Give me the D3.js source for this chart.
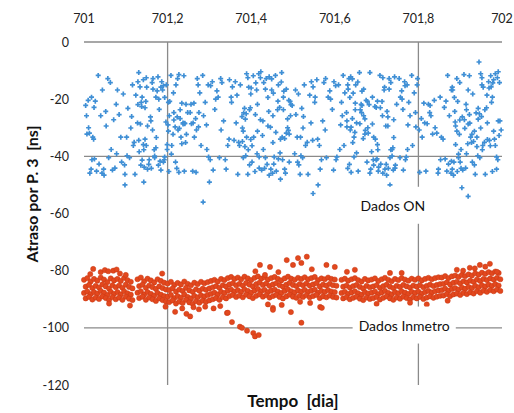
<!DOCTYPE html>
<html>
<head>
<meta charset="utf-8">
<script src="https://cdn.jsdelivr.net/npm/d3@7"></script>
<style>
  body { margin: 0; background: #fff; }
  text { font-family: Lato, "Liberation Sans", sans-serif; }
</style>
</head>
<body>
<div id="chart"></div>
<script>
// time in thousandths of a day after day 701
const T0 = 701;
const xTicks = [701, 701.2, 701.4, 701.6, 701.8, 702];
const yTicks = [0, -20, -40, -60, -80, -100, -120];
const xGrid = [701.2, 701.8];
const yGrid = [0, -40, -100];

// Dados ON  [t, atraso ns]
const dadosON1 = [
  [4,-22.2],[6,-25.8],[7,-32.2],[10,-20.4],[11,-30],[13,-31.9],[14,-45.9],[17,-44.5],[18,-19.3],[19,-41.2],
  [21,-33.3],[23,-34],[24,-22.9],[25,-40.9],[27,-20.7],[30,-45.2],[34,-11.7],[36,-42.7],[40,-25.8],[43,-45.9],
  [44,-16.8],[47,-44.5],[48,-46.6],[52,-24.3],[53,-29.4],[57,-12.8],[59,-40.5],[63,-14.2],[65,-37.6],[68,-44.8],
  [71,-27.2],[74,-44.1],[77,-21.8],[78,-39.1],[80,-16.8],[84,-25.4],[88,-33.3],[90,-42],[94,-18.2],[97,-43],
  [98,-46.3],[102,-33.3],[103,-39.8],[105,-23.2],[109,-40.5],[112,-30.1],[114,-26.1],[116,-15],[118,-36.2],[120,-35.1],
  [122,-46.3],[124,-18.6],[128,-28.3],[129,-13.9],[131,-34.4],[134,-15.7],[137,-21.1],[139,-19.3],[142,-13.2],[146,-34],
  [149,-36.2],[152,-44.5],[156,-41.2],[160,-27.6],[163,-14.2],[164,-30.8],[165,-12.8],[169,-40.5],[172,-19.3],[175,-17.1],
  [179,-20],[180,-23.6],[184,-44.8],[186,-13.9],[190,-15.3],[192,-41.2],[193,-40.2],[197,-15],[199,-37.6],[201,-29],
  [202,-21.1],[204,-25.8],[208,-11.7],[210,-36.2],[214,-17.8],[215,-24.7],[218,-29.7],[220,-15],[224,-12.8],[225,-30.8],
  [227,-45.6],[230,-26.8],[232,-33.3],[234,-21.4],[237,-28.3],[240,-45.2],[241,-28.6],[244,-21.8],[248,-24.7]
];
const dadosON2 = [
  [254,-24.7],[256,-21.8],[257,-28.6],[260,-45.2],[261,-28.3],[263,-21.4],[264,-33.3],[267,-26.8],[268,-45.6],[269,-30.8],
  [271,-12.8],[273,-15],[274,-29.7],[275,-24.7],[277,-17.8],[280,-36.2],[284,-11.7],[286,-25.8],[290,-21.1],[293,-29],
  [294,-37.6],[297,-15],[298,-40.2],[302,-41.2],[303,-15.3],[307,-13.9],[309,-44.8],[313,-23.6],[315,-20],[318,-17.1],
  [321,-19.3],[324,-40.5],[327,-12.8],[328,-30.8],[330,-14.2],[334,-27.6],[338,-41.2],[340,-44.5],[344,-36.2],[347,-34],
  [348,-13.2],[352,-19.3],[353,-21.1],[355,-15.7],[359,-34.4],[362,-13.9],[364,-28.3],[366,-18.6],[368,-46.3],[370,-35.1],
  [372,-36.2],[374,-15],[378,-26.1],[379,-30.1],[381,-40.5],[384,-23.2],[387,-39.8],[389,-33.3],[392,-46.3],[396,-43],
  [399,-18.2],[402,-42],[406,-33.3],[410,-25.4],[413,-16.8],[414,-39.1],[415,-21.8],[419,-44.1],[422,-27.2],[425,-44.8],
  [429,-37.6],[430,-14.2],[434,-40.5],[436,-12.8],[440,-29.4],[442,-24.3],[443,-46.6],[447,-44.5],[449,-16.8],[451,-45.9],
  [452,-25.8],[454,-42.7],[458,-11.7],[460,-45.2],[464,-20.7],[465,-40.9],[468,-22.9],[470,-34],[474,-33.3],[475,-41.2],
  [477,-19.3],[480,-44.5],[482,-45.9],[484,-31.9],[487,-30],[490,-20.4],[491,-32.2],[494,-25.8],[498,-22.2]
];
const dadosON3 = [
  [504,-39.1],[506,-16.8],[507,-25.4],[510,-33.3],[511,-42],[513,-18.2],[514,-43],[517,-46.3],[518,-33.3],[519,-39.8],
  [521,-23.2],[523,-40.5],[524,-30.1],[525,-26.1],[527,-15],[530,-36.2],[534,-35.1],[536,-46.3],[540,-18.6],[543,-28.3],
  [544,-13.9],[547,-34.4],[548,-15.7],[552,-21.1],[553,-19.3],[557,-13.2],[559,-34],[563,-36.2],[565,-44.5],[568,-41.2],
  [571,-27.6],[574,-14.2],[577,-30.8],[578,-12.8],[580,-40.5],[584,-19.3],[588,-17.1],[590,-20],[594,-23.6],[597,-44.8],
  [598,-13.9],[602,-15.3],[603,-41.2],[605,-40.2],[609,-15],[612,-37.6],[614,-29],[616,-21.1],[618,-25.8],[620,-11.7],
  [622,-36.2],[624,-17.8],[628,-24.7],[629,-29.7],[631,-15],[634,-12.8],[637,-30.8],[639,-45.6],[642,-26.8],[646,-33.3],
  [649,-21.4],[652,-28.3],[656,-45.2],[660,-28.6],[663,-21.8],[664,-24.7],[665,-22.2],[669,-25.8],[672,-32.2],[675,-20.4],
  [679,-30],[680,-31.9],[684,-45.9],[686,-44.5],[690,-19.3],[692,-41.2],[693,-33.3],[697,-34],[699,-22.9],[701,-40.9],
  [702,-20.7],[704,-45.2],[708,-11.7],[710,-42.7],[714,-25.8],[715,-45.9],[718,-16.8],[720,-44.5],[724,-46.6],[725,-24.3],
  [727,-29.4],[730,-12.8],[732,-40.5],[734,-14.2],[737,-37.6],[740,-44.8],[741,-27.2],[744,-44.1],[748,-21.8]
];
const dadosON4 = [
  [754,-12.8],[756,-40.5],[757,-19.3],[760,-17.1],[761,-20],[763,-23.6],[764,-44.8],[767,-13.9],[768,-15.3],[769,-41.2],
  [771,-40.2],[773,-15],[774,-37.6],[775,-29],[777,-21.1],[780,-25.8],[784,-11.7],[786,-36.2],[790,-17.8],[793,-24.7],
  [794,-29.7],[797,-15],[798,-12.8],[802,-30.8],[803,-45.6],[807,-26.8],[809,-33.3],[813,-21.4],[815,-28.3],[818,-45.2],
  [821,-28.6],[824,-21.8],[827,-24.7],[828,-22.2],[830,-25.8],[834,-32.2],[838,-20.4],[840,-30],[844,-31.9],[847,-45.9],
  [848,-44.5],[852,-19.3],[853,-41.2],[855,-33.3],[859,-34],[862,-22.9],[864,-40.9],[866,-20.7],[868,-45.2],[870,-11.7],
  [872,-42.7],[874,-25.8],[878,-45.9],[879,-16.8],[881,-44.5],[884,-46.6],[887,-24.3],[889,-29.4],[892,-12.8],[896,-40.5],
  [899,-14.2],[902,-37.6],[906,-44.8],[910,-27.2],[913,-44.1],[914,-21.8],[915,-39.1],[919,-16.8],[922,-25.4],[925,-33.3],
  [929,-42],[930,-18.2],[934,-43],[936,-46.3],[940,-33.3],[942,-39.8],[943,-23.2],[947,-40.5],[949,-30.1],[951,-26.1],
  [952,-15],[954,-36.2],[958,-35.1],[960,-46.3],[964,-18.6],[965,-28.3],[968,-13.9],[970,-34.4],[974,-15.7],[975,-21.1],
  [977,-19.3],[980,-13.2],[982,-34],[984,-36.2],[987,-44.5],[990,-41.2],[991,-27.6],[994,-14.2],[998,-30.8]
];
const dadosON5 = [
  [129,-21.9],[131,-10.7],[132,-38.4],[135,-28.7],[136,-43.1],[138,-22.6],[139,-41.3],[142,-35.9],[143,-37.7],[144,-43.8],
  [146,-23],[148,-20.8],[149,-12.5],[150,-15.8],[152,-29.4],[155,-42.8],[159,-26.2],[161,-44.2],[165,-16.5],[168,-37.7],
  [169,-39.9],[172,-37],[173,-33.4],[177,-12.2],[178,-43.1],[182,-41.7],[184,-15.8],[188,-16.8],[190,-42],[193,-19.4],
  [196,-28],[199,-35.9],[202,-31.2],[203,-45.3],[205,-20.8],[209,-39.2],[213,-32.3],[215,-27.3],[219,-42],[222,-44.2],
  [223,-26.2],[227,-11.4],[228,-30.2],[230,-23.7],[234,-35.6],[237,-28.7],[239,-11.8],[241,-28.4],[243,-35.2],[245,-32.3],
  [379,-34.8],[381,-31.2],[382,-24.8],[385,-36.6],[386,-27],[388,-25.1],[389,-11.1],[392,-12.5],[393,-37.7],[394,-15.8],
  [396,-23.7],[398,-23],[399,-34.1],[400,-16.1],[402,-36.3],[405,-11.8],[409,-45.3],[411,-14.3],[415,-31.2],[418,-11.1],
  [419,-40.2],[422,-12.5],[423,-10.4],[427,-32.7],[428,-27.6],[432,-44.2],[434,-16.5],[438,-42.8],[440,-19.4],[443,-12.2],
  [446,-29.8],[449,-12.9],[452,-35.2],[453,-17.9],[455,-40.2],[459,-31.6],[463,-23.7],[465,-15],[469,-38.8],[472,-14],
  [473,-10.7],[477,-23.7],[478,-17.2],[480,-33.8],[484,-16.5],[487,-26.9],[489,-30.9],[491,-42],[493,-20.8],[495,-21.9]
];
const dadosON6 = [
  [629,-27.6],[631,-44.2],[632,-16.5],[635,-42.8],[636,-19.4],[638,-12.2],[639,-29.8],[642,-12.9],[643,-35.2],[644,-17.9],
  [646,-40.2],[648,-31.6],[649,-23.7],[650,-15],[652,-38.8],[655,-14],[659,-10.7],[661,-23.7],[665,-17.2],[668,-33.8],
  [669,-16.5],[672,-26.9],[673,-30.9],[677,-42],[678,-20.8],[682,-21.9],[684,-10.7],[688,-38.4],[690,-28.7],[693,-43.1],
  [696,-22.6],[699,-41.3],[702,-35.9],[703,-37.7],[705,-43.8],[709,-23],[713,-20.8],[715,-12.5],[719,-15.8],[722,-29.4],
  [723,-42.8],[727,-26.2],[728,-44.2],[730,-16.5],[734,-37.7],[737,-39.9],[739,-37],[741,-33.4],[743,-12.2],[745,-43.1],
  [879,-41.7],[881,-15.8],[882,-16.8],[885,-42],[886,-19.4],[888,-28],[889,-35.9],[892,-31.2],[893,-45.3],[894,-20.8],
  [896,-39.2],[898,-32.3],[899,-27.3],[900,-42],[902,-44.2],[905,-26.2],[909,-11.4],[911,-30.2],[915,-23.7],[918,-35.6],
  [919,-28.7],[922,-11.8],[923,-28.4],[927,-35.2],[928,-32.3],[932,-34.8],[934,-31.2],[938,-24.8],[940,-36.6],[943,-27],
  [946,-25.1],[949,-11.1],[952,-12.5],[953,-37.7],[955,-15.8],[959,-23.7],[963,-23],[965,-34.1],[969,-16.1],[972,-36.3],
  [973,-11.8],[977,-45.3],[978,-14.3],[980,-31.2],[984,-11.1],[987,-40.2],[989,-12.5],[991,-10.4],[993,-32.7],[995,-27.6]
];
const dadosONout = [[98,-50],[143,-49],[285,-56],[300,-49],[470,-48],[548,-53],[560,-50],[732,-50],[904,-51],[919,-54],[945,-7]];

// Dados Inmetro: sample times for the four tracks (null = no data)
const inmetroT1 = [0,8,16,24,32,40,48,56,64,72,80,88,96,104,112,120,128,136,144,152,160,168,176,184,192,200,208,216,224,232,240,248,256,264,272,280,288,296,304,312,320,328,336,344,352,360,368,376,384,392,400,408,416,424,432,440,448,456,464,472,480,488,496,504,512,520,528,536,544,552,560,568,576,584,592,600,608,616,624,632,640,648,656,664,672,680,688,696,704,712,720,728,736,744,752,760,768,776,784,792,800,808,816,824,832,840,848,856,864,872,880,888,896,904,912,920,928,936,944,952,960,968,976,984,992];
const inmetroT2 = [4,12,20,28,36,44,52,60,68,76,84,92,100,108,116,124,132,140,148,156,164,172,180,188,196,204,212,220,228,236,244,252,260,268,276,284,292,300,308,316,324,332,340,348,356,364,372,380,388,396,404,412,420,428,436,444,452,460,468,476,484,492,500,508,516,524,532,540,548,556,564,572,580,588,596,604,612,620,628,636,644,652,660,668,676,684,692,700,708,716,724,732,740,748,756,764,772,780,788,796,804,812,820,828,836,844,852,860,868,876,884,892,900,908,916,924,932,940,948,956,964,972,980,988,996];
const inmetroA = [-83.2,-82.6,-83.8,-82.9,-83.5,-82.4,-83.1,-84.0,-82.7,-83.4,-82.9,-83.6,-82.5,-83.3,-83.9,null,
  -83.0,-82.4,-83.7,-82.8,-83.4,-84.1,-83.0,-83.6,-84.2,
  -84.5,-83.9,-85.0,-84.3,-84.8,-83.8,-84.6,-85.1,-84.2,-84.7,-83.9,-84.4,-84.0,-83.6,-83.2,-83.8,-82.9,-83.3,
  -82.6,-82.2,-82.9,-82.4,-83.0,-82.1,-82.7,-83.3,-82.5,-82.0,-82.8,-82.3,-83.1,-82.6,-82.2,-82.9,-83.4,-82.7,-82.1,-82.8,-83.2,-82.5,-82.9,-82.3,-83.0,-82.6,-82.2,-83.3,-82.7,-83.0,-82.4,-82.9,-83.1,null,
  -83.2,-82.8,-83.5,-83.0,-82.6,-83.3,-83.8,-82.9,-83.4,-83.1,-82.7,-83.6,-83.0,-82.5,-83.2,-83.7,-82.9,-83.3,-82.6,-83.1,-83.5,-82.8,-83.2,-82.7,-83.4,-82.9,-82.5,-83.0,-82.6,-82.3,
  -82.4,-81.9,-82.6,-82.0,-81.7,-82.2,-81.5,-81.9,-81.3,-81.7,-80.9,-81.4,-80.7,-81.1,-80.5,-80.9,-80.3,-80.8];
const inmetroB = [-85.6,-85.0,-86.1,-85.3,-85.9,-84.8,-85.5,-86.3,-85.1,-85.8,-85.2,-86.0,-84.9,-85.7,-86.2,null,
  -85.4,-84.9,-86.0,-85.2,-85.8,-86.4,-85.5,-86.1,-86.6,
  -86.8,-86.2,-87.3,-86.6,-87.1,-86.0,-86.9,-87.4,-86.5,-87.0,-86.3,-86.7,-86.2,-85.8,-85.4,-86.0,-85.1,-85.5,
  -84.8,-84.4,-85.1,-84.6,-85.2,-84.3,-84.9,-85.5,-84.7,-84.2,-85.0,-84.5,-85.3,-84.8,-84.4,-85.1,-85.6,-84.9,-84.3,-85.0,-85.4,-84.7,-85.1,-84.5,-85.2,-84.8,-84.4,-85.5,-84.9,-85.2,-84.6,-85.1,-85.3,null,
  -85.6,-85.2,-85.9,-85.4,-85.0,-85.7,-86.2,-85.3,-85.8,-85.5,-85.1,-86.0,-85.4,-84.9,-85.6,-86.1,-85.3,-85.7,-85.0,-85.5,-85.9,-85.2,-85.6,-85.1,-85.8,-85.3,-84.9,-85.4,-85.0,-84.7,
  -84.6,-84.1,-84.8,-84.2,-83.9,-84.4,-83.7,-84.1,-83.5,-83.9,-83.1,-83.6,-82.9,-83.3,-82.7,-83.1,-82.5,-83.0];
const inmetroC = [-87.8,-87.3,-88.2,-87.5,-88.0,-87.1,-87.7,-88.5,-87.4,-88.1,-87.5,-88.3,-87.2,-87.9,-88.4,null,
  -87.7,-87.2,-88.3,-87.5,-88.1,-88.7,-87.8,-88.4,-88.9,
  -89.1,-88.5,-89.6,-88.9,-89.4,-88.3,-89.2,-89.7,-88.8,-89.3,-88.6,-89.0,-88.5,-88.1,-87.7,-88.3,-87.4,-87.8,
  -87.0,-86.6,-87.3,-86.8,-87.4,-86.5,-87.1,-87.7,-86.9,-86.4,-87.2,-86.7,-87.5,-87.0,-86.6,-87.3,-87.8,-87.1,-86.5,-87.2,-87.6,-86.9,-87.3,-86.7,-87.4,-87.0,-86.6,-87.7,-87.1,-87.4,-86.8,-87.3,-87.5,null,
  -87.8,-87.4,-88.1,-87.6,-87.2,-87.9,-88.4,-87.5,-88.0,-87.7,-87.3,-88.2,-87.6,-87.1,-87.8,-88.3,-87.5,-87.9,-87.2,-87.7,-88.1,-87.4,-87.8,-87.3,-88.0,-87.5,-87.1,-87.6,-87.2,-86.9,
  -86.8,-86.3,-87.0,-86.4,-86.1,-86.6,-85.9,-86.3,-85.7,-86.1,-85.3,-85.8,-85.1,-85.5,-84.9,-85.3,-84.7,-85.2];
const inmetroD = [-89.7,-89.2,-90.1,-89.4,-89.9,-89.0,-89.6,-90.3,-89.3,-90.0,-89.4,-90.2,-89.1,-89.8,-90.3,null,
  -89.6,-89.1,-90.2,-89.4,-90.0,-90.6,-89.7,-90.3,-90.8,
  -91.0,-90.4,-91.5,-90.8,-91.3,-90.2,-91.1,-91.6,-90.7,-91.2,-90.5,-90.9,-90.4,-90.0,-89.6,-90.2,-89.3,-89.7,
  -88.9,-88.5,-89.2,-88.7,-89.3,-88.4,-89.0,-89.6,-88.8,-88.3,-89.1,-88.6,-89.4,-88.9,-88.5,-89.2,-89.7,-89.0,-88.4,-89.1,-89.5,-88.8,-89.2,-88.6,-89.3,-88.9,-88.5,-89.6,-89.0,-89.3,-88.7,-89.2,-89.4,null,
  -89.7,-89.3,-90.0,-89.5,-89.1,-89.8,-90.3,-89.4,-89.9,-89.6,-89.2,-90.1,-89.5,-89.0,-89.7,-90.2,-89.4,-89.8,-89.1,-89.6,-90.0,-89.3,-89.7,-89.2,-89.9,-89.4,-89.0,-89.5,-89.1,-88.8,
  -88.7,-88.2,-88.9,-88.3,-88.0,-88.5,-87.8,-88.2,-87.6,-88.0,-87.2,-87.7,-87.0,-87.4,-86.8,-87.2,-86.6,-87.1];
// Dados Inmetro: scattered points off the main band [t, atraso ns]
const inmetroOut = [
  [15,-81.2],[22,-79.4],[40,-80.5],[50,-79.8],[58,-80.2],[70,-80],[78,-79.6],[86,-81],[100,-81.5],[187,-81],
  [60,-91.5],[110,-92.2],[195,-92.6],
  [218,-94.4],[235,-93.2],[245,-95.1],[254,-96],[262,-92.8],[275,-93.5],[290,-92.6],[310,-93.2],[326,-92.4],[342,-94.8],[344,-94.7],
  [354,-98],[373,-99.6],[378,-100],[390,-101],[405,-101.8],[409,-103],[418,-102.5],
  [410,-80.2],[421,-78],[433,-81.5],[445,-78.7],[465,-80.5],[485,-76.3],[500,-78],[512,-75.6],[520,-77.3],[533,-75.1],[545,-79.5],[580,-78],[600,-78.7],[629,-80.4],[648,-79.7],
  [440,-91.8],[452,-93],[452,-93.7],[473,-92],[495,-94.5],[517,-90.9],[520,-98.2],[541,-91.3],[565,-92.7],[569,-93],
  [700,-91.6],[732,-80.8],[760,-80.8],[780,-91.2],[820,-91.8],[870,-90.5],[892,-79.7],[907,-80],[923,-79],[935,-79.2],[947,-78],[960,-78.6],[971,-77.6],[988,-80.4]
];

const labels = [
  {text: "Dados ON", x: 701.739, y: -57.3},
  {text: "Dados Inmetro", x: 701.766, y: -99.2}
];

const W = 514, H = 413;
const svg = d3.select("#chart").append("svg")
  .attr("width", W).attr("height", H);

const x = d3.scaleLinear().domain([701, 702]).range([84, 502]);
const y = d3.scaleLinear().domain([0, -120]).range([42, 385]);
const fmt = d => d3.format(".1~f")(d).replace(".", ",");

// grid lines
svg.append("g").selectAll("line").data(yGrid).join("line")
  .attr("x1", x(701)).attr("x2", x(702))
  .attr("y1", d => y(d)).attr("y2", d => y(d))
  .attr("stroke", "#8a8a8a").attr("stroke-width", 1.3);
svg.append("g").selectAll("line").data(xGrid).join("line")
  .attr("x1", d => x(d)).attr("x2", d => x(d))
  .attr("y1", y(0)).attr("y2", y(-120))
  .attr("stroke", "#8a8a8a").attr("stroke-width", 1.3);

// tick labels
svg.append("g").selectAll("text").data(xTicks).join("text")
  .attr("x", d => x(d)).attr("y", 23)
  .attr("text-anchor", "middle")
  .attr("font-size", 12.5).attr("fill", "#222")
  .text(fmt);
svg.append("g").selectAll("text").data(yTicks).join("text")
  .attr("x", 69).attr("y", d => y(d) + 4.5)
  .attr("text-anchor", "end")
  .attr("font-size", 12.5).attr("fill", "#222")
  .text(d => d);

// Dados Inmetro points
const redPts = [];
[[inmetroT1, inmetroA], [inmetroT2, inmetroB], [inmetroT1, inmetroC], [inmetroT2, inmetroD]]
  .forEach(([ts, tr]) => ts.forEach((t, i) => {
    if (tr[i] != null) redPts.push([t, tr[i]]);
  }));
inmetroOut.forEach(p => redPts.push(p));

svg.append("g").selectAll("circle").data(redPts).join("circle")
  .attr("cx", d => x(T0 + d[0] / 1000))
  .attr("cy", d => y(d[1]))
  .attr("r", 2.6)
  .attr("fill", "#e2481e")
  .attr("stroke", "#c83914").attr("stroke-width", 0.5);

// Dados ON points
const bluePts = [].concat(dadosON1, dadosON2, dadosON3, dadosON4, dadosON5, dadosON6, dadosONout);
svg.append("g").selectAll("path").data(bluePts).join("path")
  .attr("transform", d => `translate(${x(T0 + d[0] / 1000)},${y(d[1])})`)
  .attr("d", d3.symbol(d3.symbolCross, 14))
  .attr("fill", "#3f8fd5");

// labels with white boxes
labels.forEach(l => {
  const g = svg.append("g");
  const t = g.append("text")
    .attr("x", x(l.x)).attr("y", y(l.y) + 5)
    .attr("text-anchor", "middle")
    .attr("font-size", 14).attr("fill", "#111")
    .text(l.text);
  const b = t.node().getBBox();
  g.insert("rect", "text")
    .attr("x", b.x - 6).attr("y", b.y - 10)
    .attr("width", b.width + 12).attr("height", b.height + 20)
    .attr("fill", "#fff");
});

// axis titles
svg.append("text")
  .attr("x", 293).attr("y", 407)
  .attr("text-anchor", "middle")
  .attr("font-size", 17).attr("font-weight", "bold").attr("fill", "#111")
  .text("Tempo\u00a0\u00a0[dia]");
svg.append("text")
  .attr("transform", "translate(38,194) rotate(-90)")
  .attr("text-anchor", "middle")
  .attr("font-size", 16).attr("font-weight", "bold").attr("fill", "#111")
  .text("Atraso por P. 3\u00a0\u00a0[ns]");
</script>
</body>
</html>
